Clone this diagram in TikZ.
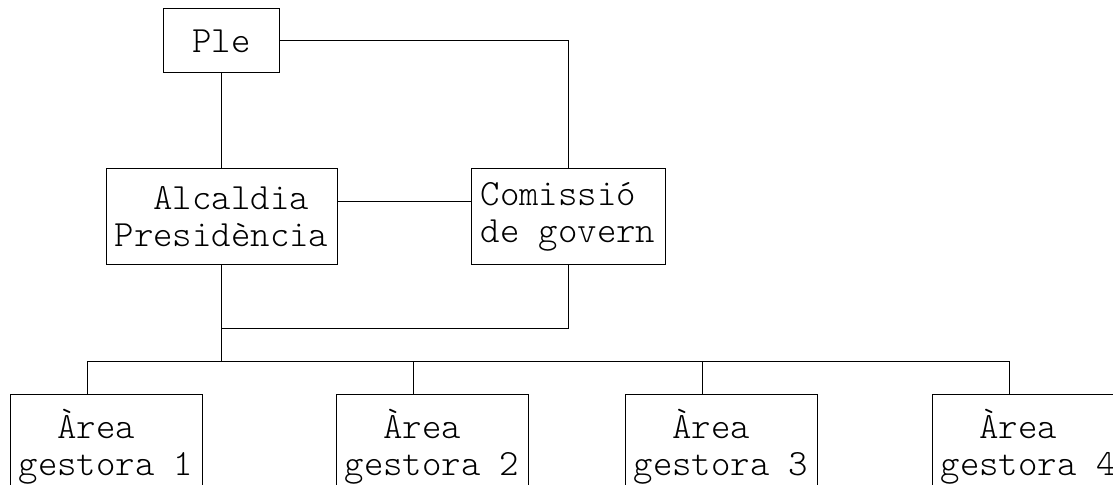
\documentclass[tikz,border=0pt]{standalone}
\usepackage{fontspec}
\setmonofont{Latin Modern Mono Light}

\begin{document}
\begin{tikzpicture}[x=0.5pt, y=-0.5pt, line width=0.5pt,
			caixa/.style={rectangle, draw, align=left, inner sep=0pt,
				font=\ttfamily\fontsize{18.5}{18.5}\selectfont},
			area/.style={caixa, minimum width=96pt, minimum height=52pt}]
			\useasboundingbox (0,0) rectangle (1113,485);
			
			% Organs de govern
			\node[caixa, minimum width=58pt, minimum height=32pt] (ple) at (221.5,41) {Ple};
			\node[caixa, minimum width=115.5pt, minimum height=48pt] (alc) at (221.5,217) {\hphantom{Pr}Alcaldia\\Presidència};
			\node[caixa, minimum width=97pt, minimum height=48pt] (com) at (568,217) {Comissió\\de govern};
			
			% Arees gestores
			\node[area] (a1) at (106,447) {\hphantom{ge}Àrea\\gestora 1};
			\node[area] (a2) at (432,447) {\hphantom{ge}Àrea\\gestora 2};
			\node[area] (a3) at (721,447) {\hphantom{ge}Àrea\\gestora 3};
			\node[area] (a4) at (1028,447) {\hphantom{ge}Àrea\\gestora 4};
			
			% --- Connexions ---
			\coordinate (bus) at (221.5,362);
			\coordinate (unio) at (221.5,329);
			
			\draw (ple) -- (alc);
			\draw (ple.east) -| (com.north);
			\draw ([yshift=7.5pt]alc.east) -- ([yshift=7.5pt]com.west);
			\draw (alc.south) -- (bus);
			\draw (com.south) |- (unio);
			
			% Cap a les arees
			\foreach \i in {1,...,4}
				\draw ([xshift=-9.5pt]a\i.north) |- (bus);
			
		\end{tikzpicture}
\end{document}
